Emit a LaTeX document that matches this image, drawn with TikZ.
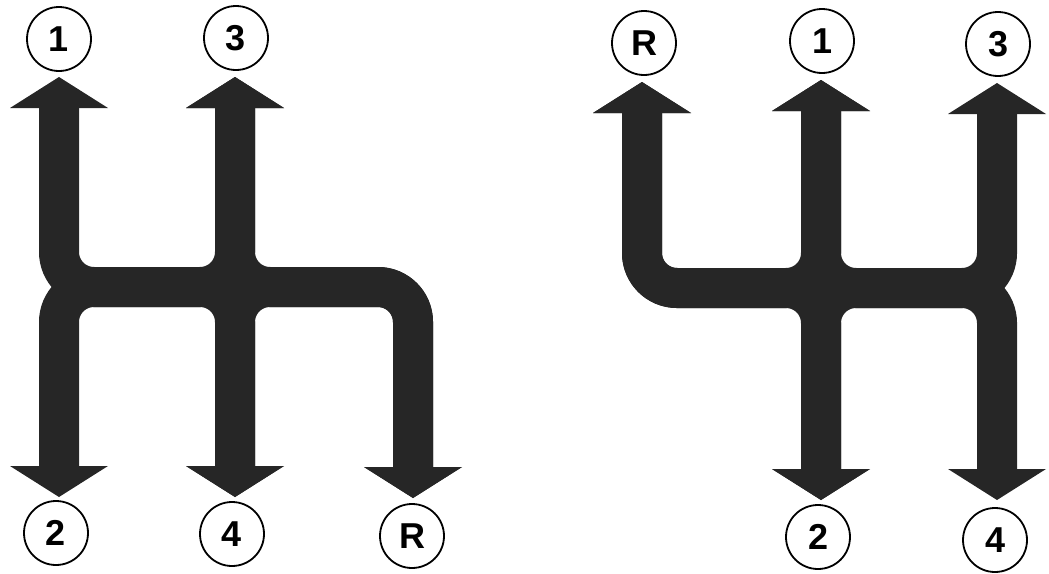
\documentclass[tikz,border=0pt]{standalone}
\usepackage{fontspec}
\setmainfont{Liberation Sans}
\usetikzlibrary{arrows.meta}

\begin{document}
\begin{tikzpicture}[x=1pt, y=-1pt,
		>={Triangle[width=98pt,length=31pt,line width=0pt]},
		band/.style={<->, line width=40pt, draw=black!85, rounded corners=35pt},
		gear/.style={circle, draw, line width=1.8pt, minimum size=64pt, inner sep=0pt,
			font=\fontsize{36}{36}\selectfont\bfseries}]
	\useasboundingbox (0,0) rectangle (1049,573);

	% Left shift pattern: 1-2, 3-4, R
	\coordinate (la-top) at (59,77);
	\coordinate (la-mid) at (59,287);
	\coordinate (la-bot) at (59,497);
	\coordinate (lb-top) at (235,77);
	\coordinate (lb-mid) at (235,287);
	\coordinate (lb-bot) at (235,497);
	\coordinate (lr-mid) at (413,287);
	\coordinate (lr-bot) at (413,498);

	\draw[band] (la-top) -- (la-mid) -- (lb-mid) -- (lb-top);
	\draw[band] (la-bot) -- (la-mid) -- (lb-mid) -- (lb-bot);
	\draw[band] (lb-top) -- (lb-mid) -- (lr-mid) -- (lr-bot);
	\draw[band] (lb-bot) -- (lb-mid) -- (lr-mid) -- (lr-bot);

	\node[gear] (l-one) at (59,39) {1};
	\node[gear] (l-three) at (236,38) {3};
	\node[gear] (l-two) at (56,533) {2};
	\node[gear] (l-four) at (232,534) {4};
	\node[gear] (l-rev) at (412,536) {R};

	% Right shift pattern: R, 1-2, 3-4
	\coordinate (rr-top) at (642,82);
	\coordinate (rr-mid) at (642,288);
	\coordinate (r1-top) at (821,80);
	\coordinate (r1-mid) at (821,288);
	\coordinate (r1-bot) at (821,500);
	\coordinate (r3-top) at (997,83);
	\coordinate (r3-mid) at (997,288);
	\coordinate (r3-bot) at (997,500);

	\draw[band] (rr-top) -- (rr-mid) -- (r1-mid) -- (r1-top);
	\draw[band] (rr-top) -- (rr-mid) -- (r1-mid) -- (r1-bot);
	\draw[band] (r1-top) -- (r1-mid) -- (r3-mid) -- (r3-top);
	\draw[band] (r1-bot) -- (r1-mid) -- (r3-mid) -- (r3-bot);

	\node[gear] (r-rev) at (644,43) {R};
	\node[gear] (r-one) at (822,41) {1};
	\node[gear] (r-three) at (998,44) {3};
	\node[gear] (r-two) at (818,537) {2};
	\node[gear] (r-four) at (995,540) {4};
\end{tikzpicture}
\end{document}
